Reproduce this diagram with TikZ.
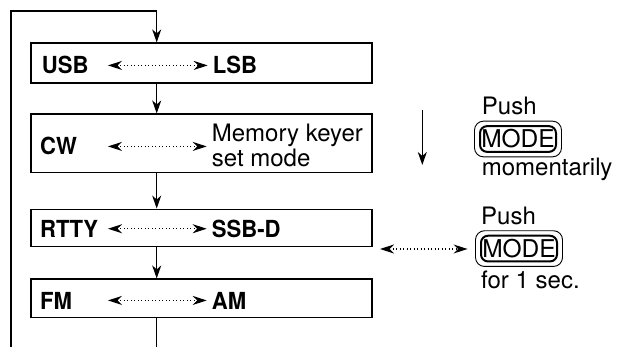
\documentclass[tikz,border=0pt]{standalone}
\usepackage{fontspec}
\setmainfont{TeX Gyre Heros}
\newfontfamily\namefont[FakeStretch=0.94]{TeX Gyre Heros}
\usetikzlibrary{arrows.meta,positioning,fit}

\begin{document}
\begin{tikzpicture}[x=1pt,y=-1pt,
  modebox/.style={draw, line width=1.2pt, minimum width=341pt, inner sep=0pt},
  lbl/.style={anchor=base west, inner sep=0pt, font=\namefont\fontsize{23.5}{26}\selectfont\bfseries},
  txt/.style={anchor=base west, inner sep=0pt, font=\fontsize{24}{26}\selectfont},
  flow/.style={line width=1.2pt, -{Stealth[length=13pt,width=9pt,inset=4pt]}},
  swap/.style={line width=1.1pt, dash pattern=on 1pt off 2.5pt,
    {Stealth[length=14pt,width=9pt,inset=4.5pt]}-{Stealth[length=14pt,width=9pt,inset=4.5pt]}},
  keycap/.style={draw, line width=2pt, rounded corners=7pt, minimum width=76pt,
    minimum height=25.7pt, inner sep=0pt, font=\fontsize{24.5}{26}\selectfont,
    text height=17pt, text depth=0pt},
  keyrim/.style={draw, line width=0.9pt, rounded corners=9pt, inner xsep=4.5pt, inner ysep=4pt}]
  \useasboundingbox (0,0) rectangle (621,347);

  % mode boxes
  \node[modebox, minimum height=40pt] (usb) at (201.5,63) {};
  \node[modebox, minimum height=58.7pt] (cw) at (201.5,143.4) {};
  \node[modebox, minimum height=37.7pt] (rtty) at (201.5,228) {};
  \node[modebox, minimum height=38.7pt] (fm) at (201.5,298.4) {};

  % mode names
  \node[lbl] (usbL) at (41.7,74) {USB};
  \node[lbl] (lsbR) at (212.7,74) {LSB};
  \node[lbl] (cwL) at (40,155) {CW};
  \node[txt] (memR) at (211.7,141.7) {Memory keyer};
  \node[txt] (setR) at (211.7,166.7) {set mode};
  \node[lbl] (rttyL) at (40,237.3) {RTTY};
  \node[lbl] (ssbR) at (211.7,237.3) {SSB-D};
  \node[lbl] (fmL) at (40,309) {FM};
  \node[lbl] (amR) at (211.7,309) {AM};

  % loop round the boxes
  \coordinate (loopT) at (156.7,11);
  \coordinate (loopL) at (11,11);
  \coordinate (botL) at (11,347);
  \coordinate (botC) at (156.7,347);
  \coordinate (swapL) at (108,0);
  \draw[flow] (botL) -- (loopL) -- (loopT) -- (usb.north -| loopT);
  \draw[flow] (usb.south -| loopT) -- (cw.north -| loopT);
  \draw[flow] (cw.south -| loopT) -- (rtty.north -| loopT);
  \draw[flow] (rtty.south -| loopT) -- (fm.north -| loopT);
  \draw[line width=1.2pt] (fm.south -| loopT) -- (botC);

  \foreach \a/\b in {usbL/lsbR, cwL/memR, rttyL/ssbR, fmL/amR}
    \draw[swap] (\a.east -| swapL) -- ([xshift=-5pt]\b.west |- \a.east);

  % push momentarily
  \coordinate (dnT) at (422.3,110);
  \coordinate (dnB) at (422.3,165);
  \draw[flow] (dnT) -- (dnB);
  \node[txt] (push1) at (481.7,115) {Push};
  \node[keycap] (mode1) at (518,139) {MODE};
  \node[keyrim, fit=(mode1)] (rim1) {};
  \node[txt] (mom) at (481.7,176) {momentarily};

  % push for 1 sec
  \node[txt] (push2) at (481,225) {Push};
  \node[keycap] (mode2) at (519,248.6) {MODE};
  \node[keyrim, fit=(mode2)] (rim2) {};
  \node[txt] (sec) at (481,289) {for 1 sec.};
  \coordinate (holdL) at (380,249);
  \draw[swap] (holdL) -- ([xshift=-7.5pt]rim2.west |- holdL);
\end{tikzpicture}
\end{document}
